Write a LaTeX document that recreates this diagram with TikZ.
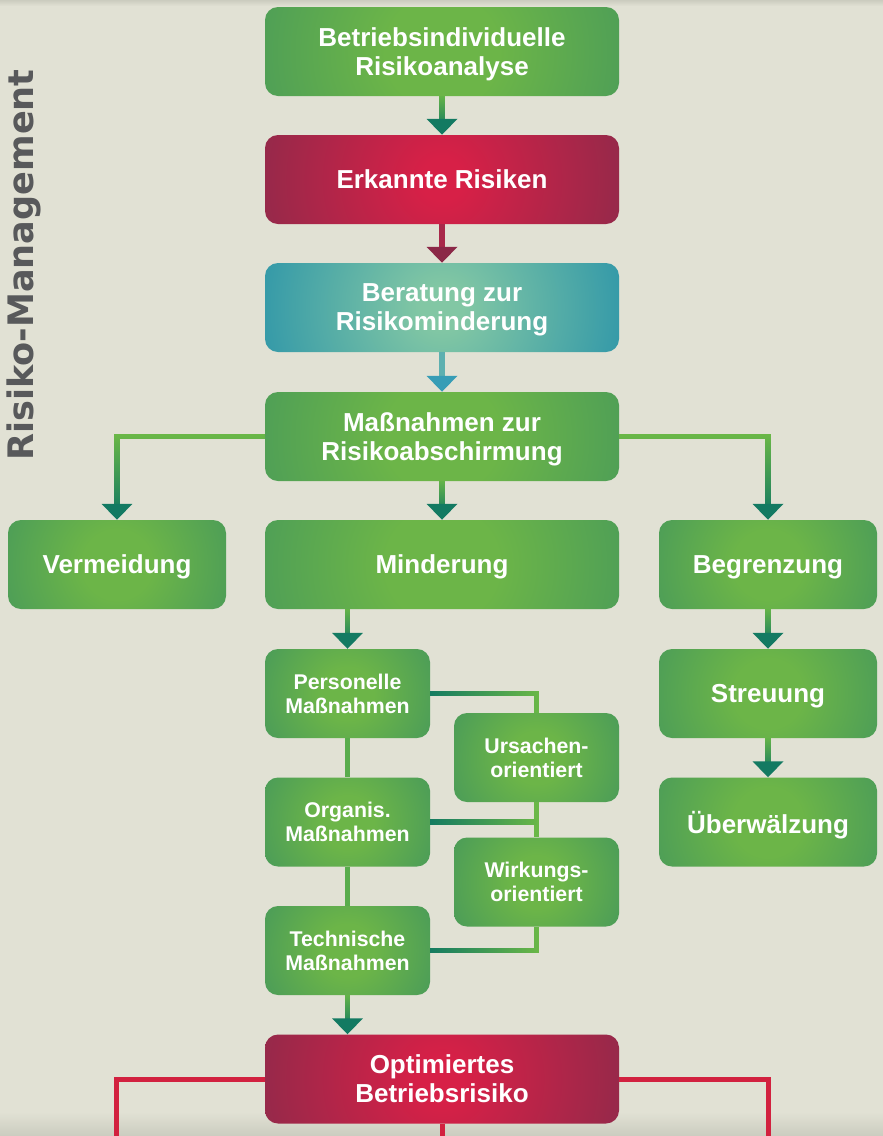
\documentclass[tikz,border=0pt]{standalone}
\usepackage{fontspec}
\setmainfont{Liberation Sans}
\newfontfamily\titlefont{DejaVu Sans}
\usetikzlibrary{arrows.meta,calc,fadings}
\definecolor{bg}{HTML}{E1E1D4}
\definecolor{bgdark}{HTML}{CBCCBF}
\definecolor{gin}{HTML}{6CB548}
\definecolor{gout}{HTML}{3F935E}
\definecolor{rin}{HTML}{D72047}
\definecolor{rout}{HTML}{782D4B}
\definecolor{bin}{HTML}{82C7A4}
\definecolor{bout}{HTML}{1587AA}
\definecolor{tealdark}{HTML}{137A62}
\definecolor{lightgreen}{HTML}{6BB847}
\definecolor{stemred}{HTML}{A8294A}
\definecolor{arrred}{HTML}{8B2847}
\definecolor{stemblue}{HTML}{5DB0B0}
\definecolor{arrblue}{HTML}{379DB6}
\definecolor{redline}{HTML}{D2213F}
\definecolor{titlegray}{HTML}{58595B}
\pgfdeclareradialshading{greenrad}{\pgfpoint{0bp}{0bp}}{color(0bp)=(gin); color(8bp)=(gin); color(36bp)=(gout); color(75bp)=(gout)}
\pgfdeclareradialshading{redrad}{\pgfpoint{0bp}{0bp}}{color(0bp)=(rin); color(3bp)=(rin); color(36bp)=(rout); color(75bp)=(rout)}
\pgfdeclareradialshading{bluerad}{\pgfpoint{0bp}{0bp}}{color(0bp)=(bin); color(3bp)=(bin); color(35bp)=(bout); color(75bp)=(bout)}
\tikzset{
  box/.style={rounded corners=13pt, minimum height=89pt, inner sep=0pt, text=white, align=center,
    text depth=0pt, font=\bfseries\fontsize{26}{29}\selectfont},
  wbox/.style={box, minimum width=354pt},
  mbox/.style={box, minimum width=218pt},
  sbox/.style={box, minimum width=165pt, font=\bfseries\fontsize{21.3}{24}\selectfont},
  shadebox/.style 2 args={path picture={\shade[shading=#1]
      ($(path picture bounding box.center)+(-#2,-#2)$) rectangle
      ($(path picture bounding box.center)+(#2,#2)$);}},
  conn/.style={line width=5.5pt, draw=#1},
  headto/.style={-{Triangle[width=30pt,length=16pt,color=#1]}},
  gradover/.style={line width=5.5pt, draw=tealdark, path fading=#1},
}
\begin{document}
\begin{tikzpicture}[x=1pt,y=-1pt]
\fill[bg] (0,0) rectangle (883,1136);
\shade[top color=bg, bottom color=bgdark] (0,1112) rectangle (883,1136);
\shade[top color=bgdark, bottom color=bg] (0,0) rectangle (883,6);
\useasboundingbox (0,0) rectangle (883,1136);

\node[rotate=90, anchor=base, text=titlegray, font=\titlefont\bfseries\fontsize{35.1}{40}\selectfont] (title) at (33,265) {Risiko-Management};

\node[wbox, shadebox={greenrad}{177pt}] (b1) at (442,51.5) {Betriebsindividuelle\\Risikoanalyse};
\node[wbox, shadebox={redrad}{177pt}] (b2) at (442,179.5) {Erkannte Risiken};
\node[wbox, shadebox={bluerad}{177pt}] (b3) at (442,307.5) {Beratung zur\\Risikominderung};
\node[wbox, shadebox={greenrad}{177pt}] (b4) at (442,436.5) {Maßnahmen zur\\Risikoabschirmung};
\node[mbox, shadebox={greenrad}{109pt}] (verm) at (117,564.5) {Vermeidung};
\node[wbox, shadebox={greenrad}{177pt}] (mind) at (442,564.5) {Minderung};
\node[mbox, shadebox={greenrad}{109pt}] (begr) at (768,564.5) {Begrenzung};
\node[mbox, shadebox={greenrad}{109pt}] (streu) at (768,693.5) {Streuung};
\node[mbox, shadebox={greenrad}{109pt}] (ueber) at (768,822) {Überwälzung};
\node[sbox, shadebox={greenrad}{82.5pt}] (pers) at (347.5,693.5) {Personelle\\Maßnahmen};
\node[sbox, shadebox={greenrad}{82.5pt}] (urs) at (536.5,757.5) {Ursachen-\\orientiert};
\node[sbox, shadebox={greenrad}{82.5pt}] (org) at (347.5,822) {Organis.\\Maßnahmen};
\node[sbox, shadebox={greenrad}{82.5pt}] (wirk) at (536.5,882) {Wirkungs-\\orientiert};
\node[sbox, shadebox={greenrad}{82.5pt}] (tech) at (347.5,950.5) {Technische\\Maßnahmen};
\node[wbox, shadebox={redrad}{177pt}] (opt) at (442,1079) {Optimiertes\\Betriebsrisiko};

% main column
\draw[conn=lightgreen, headto=tealdark] (b1) -- (b2);
\draw[gradover=north] (b1.south) -- ($(b2.north)+(0,-8)$) ($(b2.north)+(2,-8)$);
\draw[conn=stemred, headto=arrred] (b2) -- (b3);
\draw[conn=stemblue, headto=arrblue] (b3) -- (b4);
\draw[conn=lightgreen, headto=tealdark] (b4) -- (mind);
\draw[gradover=north] (b4.south) -- ($(mind.north)+(0,-8)$) ($(mind.north)+(2,-8)$);

% branches
\draw[conn=lightgreen, headto=tealdark] (b4.west) -| (verm.north);
\draw[gradover=north] (b4.west) -| ($(verm.north)+(0,-8)$);
\draw[conn=lightgreen, headto=tealdark] (b4.east) -| (begr.north);
\draw[gradover=north] (b4.east) -| ($(begr.north)+(0,-8)$);

% right column
\draw[conn=lightgreen, headto=tealdark] (begr) -- (streu);
\draw[gradover=north] (begr.south) -- ($(streu.north)+(0,-8)$) ($(streu.north)+(2,-8)$);
\draw[conn=lightgreen, headto=tealdark] (streu) -- (ueber);
\draw[gradover=north] (streu.south) -- ($(ueber.north)+(0,-8)$) ($(ueber.north)+(2,-8)$);

% Minderung sub-tree
\draw[conn=lightgreen, headto=tealdark] (mind.south -| pers.north) -- (pers.north);
\draw[gradover=north] (mind.south -| pers.north) -- ($(pers.north)+(0,-8)$) ($(pers.north)+(2,-8)$);
\draw[conn=lightgreen!80!tealdark] (pers) -- (org);
\draw[conn=lightgreen!80!tealdark] (org) -- (tech);
\draw[conn=lightgreen] (pers.east) -| (urs.north);
\draw[gradover=east] (pers.east) -| (urs.north);
\draw[conn=lightgreen] (urs) -- (wirk);
\draw[conn=lightgreen] (org.east) -- (org.east -| urs.south);
\draw[gradover=east] (org.east) -- (org.east -| urs.south) ($(org.east -| urs.south)+(0,2)$);
\draw[conn=lightgreen] (tech.east) -| (wirk.south);
\draw[gradover=east] (tech.east) -| (wirk.south);
\draw[conn=lightgreen, headto=tealdark] (tech.south) -- (tech.south |- opt.north);
\draw[gradover=north] (tech.south) -- ($(tech.south |- opt.north)+(0,-8)$) ($(tech.south |- opt.north)+(2,-8)$);

% bottom red lines
\coordinate (redL) at (116,1136);
\coordinate (redM) at (442,1136);
\coordinate (redR) at (768,1136);
\draw[conn=redline, line width=5pt] (opt.west) -| (redL);
\draw[conn=redline, line width=5pt] (opt.east) -| (redR);
\draw[conn=redline, line width=5pt] (opt.south) -- (redM);
\end{tikzpicture}
\end{document}
